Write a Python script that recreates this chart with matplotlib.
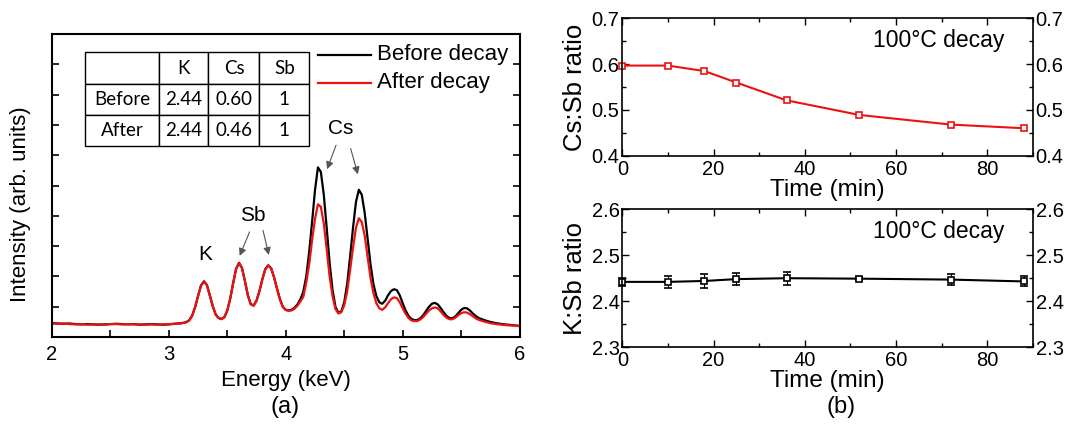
import numpy as np
import matplotlib.pyplot as plt
from matplotlib.ticker import MultipleLocator

plt.rcParams['font.family'] = ['Liberation Sans', 'DejaVu Sans']

# ---- (a) EDS spectra ----
# low-energy baseline, 2.00 .. 3.05 keV every 0.05
base_e = [2.00, 2.05, 2.10, 2.15, 2.20, 2.25, 2.30, 2.35, 2.40, 2.45, 2.50,
          2.55, 2.60, 2.65, 2.70, 2.75, 2.80, 2.85, 2.90, 2.95, 3.00, 3.05]
base_before = [0.46, 0.45, 0.44, 0.45, 0.43, 0.42, 0.43, 0.42, 0.41, 0.42, 0.43,
               0.44, 0.43, 0.42, 0.43, 0.41, 0.42, 0.43, 0.42, 0.41, 0.42, 0.44]
base_after = [0.45, 0.44, 0.45, 0.43, 0.42, 0.43, 0.41, 0.42, 0.42, 0.41, 0.43,
              0.43, 0.42, 0.43, 0.42, 0.42, 0.41, 0.42, 0.41, 0.42, 0.43, 0.44]

# peak region, 3.100 .. 5.650 keV every 0.025
peak_before = [0.46, 0.47, 0.50, 0.56, 0.72, 1.00, 1.37, 1.71, 1.84, 1.72,
               1.38, 1.02, 0.75, 0.63, 0.60, 0.66, 0.89, 1.28, 1.79, 2.26,
               2.45, 2.28, 1.86, 1.39, 1.09, 1.04, 1.21, 1.53, 1.92, 2.25,
               2.37, 2.27, 1.97, 1.60, 1.25, 1.00, 0.90, 0.88, 0.90, 0.97,
               1.08, 1.25, 1.50, 2.00, 2.80, 3.80, 4.85, 5.60, 5.45, 4.70,
               3.60, 2.45, 1.55, 1.00, 0.80, 0.85, 1.15, 1.75, 2.65, 3.60,
               4.45, 4.86, 4.70, 4.10, 3.25, 2.40, 1.75, 1.35, 1.15, 1.10,
               1.20, 1.38, 1.52, 1.58, 1.55, 1.38, 1.12, 0.88, 0.70, 0.60,
               0.56, 0.56, 0.62, 0.72, 0.86, 1.00, 1.10, 1.13, 1.08, 0.96,
               0.82, 0.70, 0.63, 0.62, 0.68, 0.79, 0.90, 0.96, 0.95, 0.88,
               0.78, 0.70, 0.63]
peak_after = [0.45, 0.47, 0.49, 0.56, 0.71, 1.00, 1.36, 1.70, 1.83, 1.72,
              1.37, 1.02, 0.74, 0.63, 0.59, 0.66, 0.88, 1.28, 1.78, 2.25,
              2.44, 2.28, 1.85, 1.39, 1.08, 1.04, 1.20, 1.52, 1.91, 2.24,
              2.36, 2.27, 1.96, 1.59, 1.24, 0.99, 0.89, 0.87, 0.88, 0.94,
              1.04, 1.18, 1.33, 1.80, 2.40, 3.20, 3.90, 4.38, 4.30, 3.75,
              2.90, 2.00, 1.35, 0.93, 0.78, 0.82, 1.05, 1.50, 2.20, 2.95,
              3.60, 3.92, 3.80, 3.35, 2.65, 1.95, 1.45, 1.12, 0.95, 0.90,
              0.98, 1.12, 1.25, 1.31, 1.29, 1.15, 0.95, 0.77, 0.63, 0.55,
              0.53, 0.53, 0.58, 0.66, 0.77, 0.88, 0.95, 0.98, 0.95, 0.85,
              0.73, 0.64, 0.59, 0.59, 0.64, 0.72, 0.79, 0.82, 0.81, 0.76,
              0.69, 0.62, 0.57]

# high-energy tail, 5.70 .. 6.00 keV every 0.05
tail_e = [5.70, 5.75, 5.80, 5.85, 5.90, 5.95, 6.00]
tail_before = [0.56, 0.50, 0.46, 0.43, 0.41, 0.39, 0.37]
tail_after = [0.51, 0.46, 0.43, 0.41, 0.39, 0.38, 0.36]

peak_e = 3.1 + 0.025 * np.arange(len(peak_before))
energy = np.concatenate([base_e, peak_e, tail_e])
before = np.concatenate([base_before, peak_before, tail_before])
after = np.concatenate([base_after, peak_after, tail_after])

table_cols = ['', 'K', 'Cs', 'Sb']
table_rows = [['Before', '2.44', '0.60', '1'],
              ['After', '2.44', '0.46', '1']]

# ---- (b) ratios vs time ----
time_min = [0, 10, 18, 25, 36, 52, 72, 88]
cs_sb = [0.597, 0.597, 0.585, 0.560, 0.521, 0.489, 0.468, 0.460]
k_sb = [2.442, 2.442, 2.444, 2.448, 2.450, 2.449, 2.447, 2.443]
k_sb_err = [0.008, 0.013, 0.015, 0.013, 0.014, 0.003, 0.012, 0.011]

fig = plt.figure(figsize=(10.73, 4.3), dpi=100)

# ---------------- panel (a) ----------------
ax = fig.add_axes([0.0485, 0.216, 0.4357, 0.705])
ax.plot(energy, before, color='black', lw=1.6)
ax.plot(energy, after, color='#ee1111', lw=1.6)
ax.set_xlim(2, 6)
ax.set_ylim(0, 10)
ax.xaxis.set_major_locator(MultipleLocator(1))
ax.xaxis.set_minor_locator(MultipleLocator(0.5))
ax.set_yticks(range(1, 10))
ax.set_yticklabels([])
ax.tick_params(which='both', direction='in', length=5, width=1.2,
               right=True, labelsize=14.5, pad=6)
for s in ax.spines.values():
    s.set_linewidth(1.5)
ax.set_xlabel('Energy (keV)', fontsize=16, labelpad=4)
ax.set_ylabel('Intensity (arb. units)', fontsize=16)
ax.yaxis.set_label_coords(-0.045, 0.44)

tbl = ax.table(cellText=table_rows, colLabels=table_cols, cellLoc='center',
               colWidths=[0.329, 0.222, 0.228, 0.222],
               bbox=[0.0706, 0.630, 0.4794, 0.309])
tbl.auto_set_font_size(False)
for cell in tbl.get_celld().values():
    cell.set_linewidth(1.0)
    cell.set_text_props(fontsize=13.5, family='Lato')

# legend drawn by hand to match placement
ax.plot([2 + 0.569 * 4, 2 + 0.682 * 4], [9.31, 9.31], color='black', lw=1.6)
ax.plot([2 + 0.569 * 4, 2 + 0.682 * 4], [8.39, 8.39], color='#ee1111', lw=1.6)
ax.text(2 + 0.695 * 4, 9.31, 'Before decay', fontsize=16, va='center')
ax.text(2 + 0.695 * 4, 8.39, 'After decay', fontsize=16, va='center')

arrow = dict(arrowstyle='-|>', color='#555555', lw=0.8, mutation_scale=11,
             shrinkA=0, shrinkB=0)
ax.text(3.31, 2.72, 'K', fontsize=15, ha='center', va='center')
ax.text(3.72, 4.0, 'Sb', fontsize=15, ha='center', va='center')
ax.annotate('', xy=(3.605, 2.68), xytext=(3.69, 3.47), arrowprops=arrow)
ax.annotate('', xy=(3.855, 2.71), xytext=(3.805, 3.52), arrowprops=arrow)
ax.text(4.47, 6.87, 'Cs', fontsize=15, ha='center', va='center')
ax.annotate('', xy=(4.353, 5.54), xytext=(4.43, 6.33), arrowprops=arrow)
ax.annotate('', xy=(4.617, 5.37), xytext=(4.555, 6.22), arrowprops=arrow)

fig.text(0.266, 0.04, '(a)', fontsize=17, ha='center')

# ---------------- panel (b) ----------------
def style_ratio(a, ylo, yhi):
    a.set_xlim(0, 90)
    a.set_ylim(ylo, yhi)
    a.xaxis.set_major_locator(MultipleLocator(20))
    a.xaxis.set_minor_locator(MultipleLocator(10))
    a.yaxis.set_major_locator(MultipleLocator(0.1))
    a.yaxis.set_minor_locator(MultipleLocator(0.05))
    a.tick_params(which='both', direction='in', top=True, right=True,
                  labelright=True, labelsize=14.5, width=1.0)
    a.tick_params(axis='x', pad=3)
    a.tick_params(axis='y', pad=2)
    a.tick_params(which='major', length=5)
    a.tick_params(which='minor', length=3)
    for s in a.spines.values():
        s.set_linewidth(1.2)
    a.set_xlabel('Time (min)', fontsize=17.5, labelpad=0)
    a.text(0.93, 0.84, '100°C decay', transform=a.transAxes, fontsize=16.5,
           ha='right', va='center')

ax1 = fig.add_axes([0.580, 0.638, 0.3825, 0.319])
ax1.plot(time_min, cs_sb, color='#ee1111', lw=1.5, marker='s', ms=5,
         mfc='white', mec='#ee1111', mew=1.2, clip_on=False)
style_ratio(ax1, 0.4, 0.7)
ax1.set_ylabel('Cs:Sb ratio', fontsize=18.5, labelpad=3)

ax2 = fig.add_axes([0.580, 0.193, 0.3825, 0.320])
ax2.errorbar(time_min, k_sb, yerr=k_sb_err, color='black', lw=1.5,
             marker='s', ms=5, mfc='white', mec='black', mew=1.2,
             capsize=3, elinewidth=0.8, capthick=0.8, clip_on=False)
style_ratio(ax2, 2.3, 2.6)
ax2.set_ylabel('K:Sb ratio', fontsize=18.5, labelpad=3)

fig.text(0.784, 0.04, '(b)', fontsize=17, ha='center')

fig.savefig('out.png', dpi=100)
